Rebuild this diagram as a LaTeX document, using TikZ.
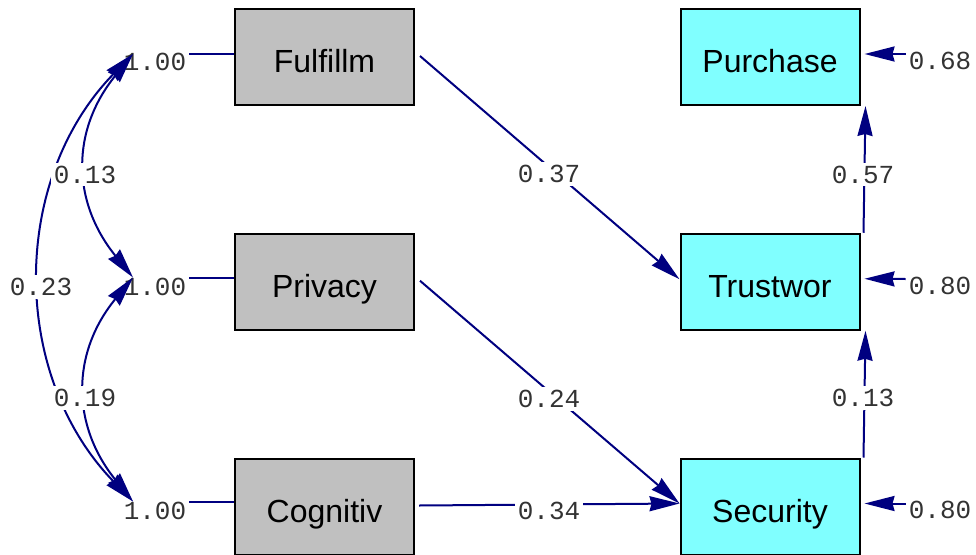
\documentclass[tikz,border=0pt]{standalone}
\usepackage{fontspec}
\setmainfont{Liberation Sans}
\newfontfamily\monof{Liberation Mono}
\usetikzlibrary{arrows.meta}
\definecolor{navyc}{RGB}{0,0,128}
\definecolor{exofill}{RGB}{192,192,192}
\definecolor{endofill}{RGB}{128,255,255}
\begin{document}
\begin{tikzpicture}[x=1pt,y=-1pt,
  varbox/.style={draw=black, line width=2pt, minimum width=179pt, minimum height=96pt,
    inner sep=0pt, text height=31.4pt, text depth=0pt, font=\fontsize{32}{32}\selectfont},
  exo/.style={varbox, fill=exofill},
  endo/.style={varbox, fill=endofill},
  link/.style={draw=navyc, line width=2pt},
  tip/.style={-{Stealth[length=30pt,width=15pt,inset=2pt]}},
  both/.style={{Stealth[length=30pt,width=15pt,inset=2pt]}-{Stealth[length=30pt,width=15pt,inset=2pt]}},
  coef/.style={font=\monof\fontsize{26}{26}\selectfont, fill=white, inner sep=3pt, text=black!80},
  unit/.style={font=\monof\fontsize{26}{26}\selectfont, inner sep=3pt, text=black!80},
]
\useasboundingbox (0,0) rectangle (976,554);
\fill[white] (0,0) rectangle (976,554);

% variables
\node[exo] (F) at (324.5,57) {Fulfillm};
\node[exo] (Pv) at (324.5,281.75) {Privacy};
\node[exo] (C) at (324.5,506.5) {Cognitiv};
\node[endo] (Pu) at (770,57) {Purchase};
\node[endo] (T) at (770,281.75) {Trustwor};
\node[endo] (S) at (770,506.5) {Security};

% variances of exogenous variables
\node[unit] (L1) at (155,61.7) {1.00};
\node[unit] (L2) at (155,286.7) {1.00};
\node[unit] (L3) at (155,511) {1.00};
\coordinate (p1) at (133,54);
\coordinate (p2) at (133,277.5);
\coordinate (p3) at (133,501.5);
\draw[link] (L1.east |- p1) -- (F.west |- p1);
\draw[link] (L2.east |- p2) -- (Pv.west |- p2);
\draw[link] (L3.east |- p3) -- (C.west |- p3);

% covariances
\draw[link,both] (p1) .. controls (71,130) and (71,201) .. (p2);
\draw[link,both] (p2) .. controls (71,353) and (71,425) .. (p3);
\draw[link,both] (p1) .. controls (10,180) and (10,375) .. (p3);
\node[coef] (c13) at (85,174.5) {0.13};
\node[coef] (c19) at (85,398) {0.19};
\node[coef] (c23) at (41,286.7) {0.23};

% structural paths
\draw[link,tip] ([xshift=5pt,yshift=1pt]F.east) -- ([yshift=2.5pt]T.west);
\draw[link,tip] ([xshift=5pt,yshift=1pt]Pv.east) -- ([yshift=3pt]S.west);
\draw[link,tip] ([xshift=4pt,yshift=1pt]C.east) -- ([yshift=3pt]S.west);
\draw[link,tip] ([xshift=3pt]T.north east) -- ([xshift=5pt]Pu.south east);
\draw[link,tip] ([xshift=3pt]S.north east) -- ([xshift=5pt]T.south east);
\node[coef] (b37) at (549,174) {0.37};
\node[coef] (b24) at (549,399) {0.24};
\node[coef] (b34) at (549,510.5) {0.34};
\node[coef] (b57) at (863,174.5) {0.57};
\node[coef] (b13) at (863,398) {0.13};

% error variances
\node[unit] (e1) at (940,60.5) {0.68};
\node[unit] (e2) at (940,285.5) {0.80};
\node[unit] (e3) at (940,510) {0.80};
\draw[link,tip] ([yshift=6.5pt]e1.west) -- ([xshift=4pt,yshift=3pt]Pu.east);
\draw[link,tip] ([yshift=6.5pt]e2.west) -- ([xshift=4pt,yshift=3pt]T.east);
\draw[link,tip] ([yshift=6.5pt]e3.west) -- ([xshift=4pt,yshift=3pt]S.east);
\end{tikzpicture}
\end{document}
